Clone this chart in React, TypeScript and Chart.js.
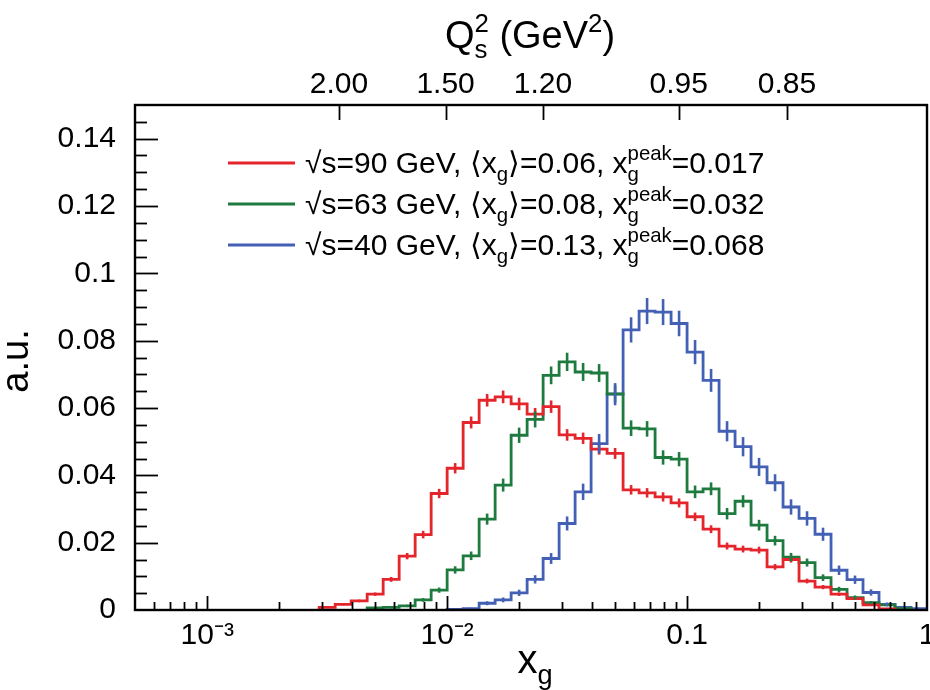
import React, { useEffect, useRef } from "react";
import { Chart, registerables } from "chart.js";

Chart.register(...registerables);

// ---------- data ----------
const BINS_PER_DECADE = 15; // log-uniform histogram bins: edges at 10^(k/15)

const redFirstBin = -38;
const redValues = [
  0.0008, 0.0017, 0.0027, 0.0047, 0.0091, 0.016, 0.0224, 0.0346, 0.0421, 0.0557,
  0.0623, 0.0633, 0.0612, 0.0582, 0.0604, 0.052, 0.051, 0.0478, 0.0465, 0.0357,
  0.0348, 0.0336, 0.0318, 0.0277, 0.024, 0.019, 0.0181, 0.0178, 0.0128, 0.015,
  0.0086, 0.0068, 0.0047, 0.0034, 0.0015, 0.0003,
];

const greenFirstBin = -35;
const greenValues = [
  0.0006, 0.0008, 0.0012, 0.003, 0.0059, 0.0119, 0.0161, 0.027, 0.0371, 0.0519,
  0.0566, 0.0697, 0.0737, 0.0707, 0.0704, 0.0642, 0.054, 0.0538, 0.0453, 0.0448,
  0.0351, 0.036, 0.0286, 0.0323, 0.0252, 0.0206, 0.0157, 0.0141, 0.0096, 0.0061,
  0.0037, 0.0022, 0.0015, 0.0005,
];

const blueFirstBin = -30;
const blueValues = [
  0.0002, 0.0004, 0.002, 0.003, 0.0051, 0.0091, 0.0153, 0.0257, 0.0351, 0.0494,
  0.0641, 0.0832, 0.0888, 0.0885, 0.0851, 0.0766, 0.0682, 0.0531, 0.0485, 0.0425,
  0.0378, 0.0306, 0.0272, 0.0225, 0.0118, 0.009, 0.0052, 0.0017, 0.0008, 0.0004,
];

// statistical error-bar size per series (err = scale * sqrt(value))
const redErrScale = 0.0075;
const greenErrScale = 0.01;
const blueErrScale = 0.013;

const seriesColors = ["#e5252c", "#1e7a3f", "#4360b4"];
const seriesLegend = [
  { s: "90", mean: "0.06", peak: "0.017" },
  { s: "63", mean: "0.08", peak: "0.032" },
  { s: "40", mean: "0.13", peak: "0.068" },
];

const xMin = 5e-4;
const xMax = 1;
const yMin = 0;
const yMax = 0.15;
const xMajorTicks = [1e-3, 1e-2, 0.1, 1];
const xMajorLabels = ["10\u207B\u00B3", "10\u207B\u00B2", "0.1", "1"];
const yLabelTicks = [0, 0.02, 0.04, 0.06, 0.08, 0.1, 0.12, 0.14];
const yLabelTexts = ["0", "0.02", "0.04", "0.06", "0.08", "0.1", "0.12", "0.14"];
const yMinorStep = 0.005;
const qsTickXg = [0.00354, 0.00985, 0.0251, 0.0923, 0.261];
const qsTickLabels = ["2.00", "1.50", "1.20", "0.95", "0.85"];

// ---------- helpers ----------
const FAMILY = "'Liberation Sans', Arial, Helvetica, sans-serif";

function binEdge(k: number) {
  return Math.pow(10, k / BINS_PER_DECADE);
}

function stepPoints(first: number, vals: number[]) {
  const pts: { x: number; y: number }[] = [{ x: binEdge(first), y: 0 }];
  vals.forEach((v, i) => pts.push({ x: binEdge(first + i), y: v }));
  const last = binEdge(first + vals.length);
  pts.push({ x: last, y: vals[vals.length - 1] });
  pts.push({ x: last, y: 0 });
  return pts;
}

type Seg = { t: string; sub?: string; sup?: string };

function richWidth(ctx: CanvasRenderingContext2D, segs: Seg[], size: number) {
  let w = 0;
  for (const s of segs) {
    ctx.font = `${size}px ${FAMILY}`;
    w += ctx.measureText(s.t).width;
    ctx.font = `${size * 0.68}px ${FAMILY}`;
    const a = s.sub ? ctx.measureText(s.sub).width : 0;
    const b = s.sup ? ctx.measureText(s.sup).width : 0;
    w += Math.max(a, b);
  }
  return w;
}

function drawRich(
  ctx: CanvasRenderingContext2D,
  segs: Seg[],
  x: number,
  y: number,
  size: number,
  align: "left" | "center" = "left"
) {
  ctx.save();
  ctx.textBaseline = "alphabetic";
  ctx.textAlign = "left";
  let cx = align === "center" ? x - richWidth(ctx, segs, size) / 2 : x;
  for (const s of segs) {
    ctx.font = `${size}px ${FAMILY}`;
    ctx.fillText(s.t, cx, y);
    cx += ctx.measureText(s.t).width;
    ctx.font = `${size * 0.68}px ${FAMILY}`;
    let w = 0;
    if (s.sub) {
      ctx.fillText(s.sub, cx, y + size * 0.27);
      w = Math.max(w, ctx.measureText(s.sub).width);
    }
    if (s.sup) {
      ctx.fillText(s.sup, cx, y - size * 0.42);
      w = Math.max(w, ctx.measureText(s.sup).width);
    }
    cx += w;
  }
  ctx.restore();
}

// ---------- plugin: frame, ROOT-style ticks, error bars, legend, titles ----------
const rootStylePlugin = {
  id: "rootStyle",
  afterDatasetsDraw(chart: any) {
    const ctx: CanvasRenderingContext2D = chart.ctx;
    const xs = chart.scales.x;
    const ys = chart.scales.y;
    const series = [
      { first: redFirstBin, vals: redValues, es: redErrScale },
      { first: greenFirstBin, vals: greenValues, es: greenErrScale },
      { first: blueFirstBin, vals: blueValues, es: blueErrScale },
    ];
    ctx.save();
    ctx.lineWidth = 2.6;
    series.forEach((s, si) => {
      ctx.strokeStyle = seriesColors[si];
      s.vals.forEach((v, i) => {
        if (v <= 0) return;
        const k = s.first + i + 0.5;
        const px = xs.getPixelForValue(binEdge(k));
        const err = s.es * Math.sqrt(v);
        const y1 = ys.getPixelForValue(Math.max(0, v - err));
        const y2 = ys.getPixelForValue(v + err);
        ctx.beginPath();
        ctx.moveTo(px, y1);
        ctx.lineTo(px, y2);
        ctx.stroke();
      });
    });
    ctx.restore();
  },
  afterDraw(chart: any) {
    const ctx: CanvasRenderingContext2D = chart.ctx;
    const a = chart.chartArea;
    const xs = chart.scales.x;
    const ys = chart.scales.y;
    const x2 = chart.scales.x2;
    ctx.save();
    ctx.strokeStyle = "#000";
    ctx.lineWidth = 1.8;
    // y ticks
    const nY = Math.round((yMax - yMin) / yMinorStep);
    for (let i = 1; i < nY; i++) {
      const v = yMin + i * yMinorStep;
      const major = i % 4 === 0;
      const py = Math.round(ys.getPixelForValue(v)) + 0.5;
      ctx.beginPath();
      ctx.moveTo(a.left, py);
      ctx.lineTo(a.left + (major ? 23 : 12), py);
      ctx.stroke();
    }
    // x bottom ticks (log)
    for (let d = -4; d <= 0; d++) {
      for (let m = 1; m <= 9; m++) {
        const v = m * Math.pow(10, d);
        if (v <= xMin * 1.001 || v >= xMax * 0.999) continue;
        const px = Math.round(xs.getPixelForValue(v)) + 0.5;
        ctx.beginPath();
        ctx.moveTo(px, a.bottom);
        ctx.lineTo(px, a.bottom - (m === 1 ? 14 : 8));
        ctx.stroke();
      }
    }
    // top axis ticks
    qsTickXg.forEach((v) => {
      const px = Math.round(x2.getPixelForValue(v)) + 0.5;
      ctx.beginPath();
      ctx.moveTo(px, a.top);
      ctx.lineTo(px, a.top + 15);
      ctx.stroke();
    });
    // frame
    ctx.lineWidth = 2.4;
    ctx.strokeRect(a.left, a.top, a.right - a.left, a.bottom - a.top);
    ctx.restore();

    // legend
    ctx.save();
    ctx.fillStyle = "#000";
    const rows = [163, 204, 245];
    seriesLegend.forEach((L, i) => {
      const y = rows[i];
      ctx.strokeStyle = seriesColors[i];
      ctx.lineWidth = 2.8;
      ctx.beginPath();
      ctx.moveTo(228, y);
      ctx.lineTo(295, y);
      ctx.stroke();
      drawRich(
        ctx,
        [
          { t: `\u221As=${L.s} GeV, \u27E8x`, sub: "g" },
          { t: `\u27E9=${L.mean}, x`, sub: "g", sup: "peak" },
          { t: `=${L.peak}` },
        ],
        305,
        y + 10,
        30
      );
    });
    // titles
    drawRich(ctx, [{ t: "Q", sub: "s", sup: "2" }, { t: " (GeV", sup: "2" }, { t: ")" }], 530, 48, 38, "center");
    drawRich(ctx, [{ t: "x", sub: "g" }], 535, 673, 40, "center");
    ctx.translate(28, 361);
    ctx.rotate(-Math.PI / 2);
    ctx.font = `38px ${FAMILY}`;
    ctx.textAlign = "center";
    ctx.textBaseline = "alphabetic";
    ctx.fillText("a.u.", 0, 0);
    ctx.restore();
  },
};

function zeroPad(scale: any) {
  scale.paddingLeft = 0;
  scale.paddingRight = 0;
  scale.paddingTop = 0;
  scale.paddingBottom = 0;
}

export default function App() {
  const ref = useRef<HTMLCanvasElement | null>(null);

  useEffect(() => {
    if (!ref.current) return;
    const tickFont = { family: FAMILY, size: 30 };
    const chart = new Chart(ref.current, {
      type: "line",
      data: {
        datasets: [
          { label: "90", data: stepPoints(redFirstBin, redValues), borderColor: seriesColors[0] },
          { label: "63", data: stepPoints(greenFirstBin, greenValues), borderColor: seriesColors[1] },
          { label: "40", data: stepPoints(blueFirstBin, blueValues), borderColor: seriesColors[2] },
        ].map((d) => ({
          ...d,
          stepped: true,
          borderWidth: 2.8,
          pointRadius: 0,
          fill: false,
          tension: 0,
        })),
      },
      options: {
        responsive: false,
        animation: false,
        events: [],
        layout: { padding: { left: 0, right: 3, top: 0, bottom: 0 } },
        plugins: { legend: { display: false }, tooltip: { enabled: false }, title: { display: false } },
        scales: {
          x: {
            type: "logarithmic",
            position: "bottom",
            min: xMin,
            max: xMax,
            grid: { display: false, drawTicks: false },
            border: { display: false },
            afterBuildTicks: (s: any) => {
              s.ticks = xMajorTicks.map((v) => ({ value: v }));
            },
            afterFit: (s: any) => {
              s.height = 80;
              zeroPad(s);
            },
            ticks: {
              autoSkip: false,
              maxRotation: 0,
              padding: 8,
              color: "#000",
              font: tickFont,
              callback: (v: any) => {
                const i = xMajorTicks.findIndex((t) => Math.abs(t - Number(v)) / t < 1e-6);
                return i >= 0 ? xMajorLabels[i] : "";
              },
            },
          },
          x2: {
            type: "logarithmic",
            position: "top",
            min: xMin,
            max: xMax,
            grid: { display: false, drawTicks: false },
            border: { display: false },
            afterBuildTicks: (s: any) => {
              s.ticks = qsTickXg.map((v) => ({ value: v }));
            },
            afterFit: (s: any) => {
              s.height = 105;
              zeroPad(s);
            },
            ticks: {
              autoSkip: false,
              maxRotation: 0,
              padding: 2,
              color: "#000",
              font: tickFont,
              callback: (v: any) => {
                const i = qsTickXg.findIndex((t) => Math.abs(t - Number(v)) / t < 1e-6);
                return i >= 0 ? qsTickLabels[i] : "";
              },
            },
          },
          y: {
            type: "linear",
            position: "left",
            min: yMin,
            max: yMax,
            grid: { display: false, drawTicks: false },
            border: { display: false },
            afterBuildTicks: (s: any) => {
              s.ticks = yLabelTicks.map((v) => ({ value: v }));
            },
            afterFit: (s: any) => {
              s.width = 135;
              zeroPad(s);
            },
            ticks: {
              autoSkip: false,
              padding: 19,
              color: "#000",
              font: tickFont,
              callback: (v: any) => {
                const i = yLabelTicks.findIndex((t) => Math.abs(t - Number(v)) < 1e-9);
                return i >= 0 ? yLabelTexts[i] : "";
              },
            },
          },
        },
      },
      plugins: [rootStylePlugin],
    } as any);
    return () => chart.destroy();
  }, []);

  return (
    <canvas
      ref={ref}
      width={930}
      height={690}
      style={{ position: "absolute", left: 0, top: 0, width: 930, height: 690, background: "#fff" }}
    />
  );
}
